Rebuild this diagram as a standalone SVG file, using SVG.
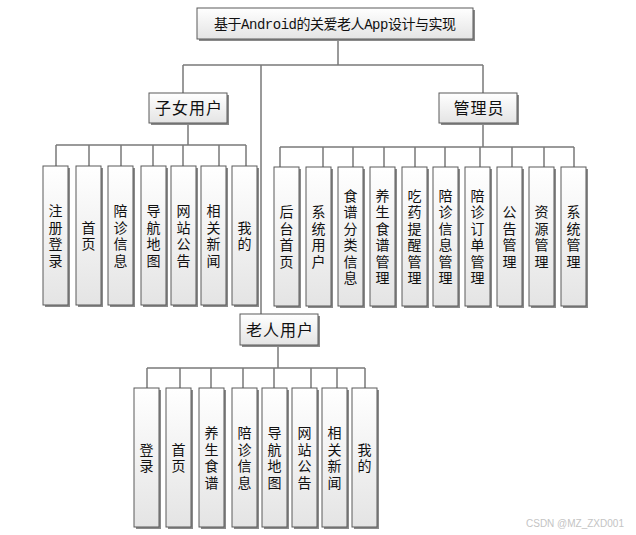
<svg xmlns="http://www.w3.org/2000/svg" width="636" height="535" viewBox="0 0 636 535">
<defs>
<linearGradient id="g" x1="0" y1="0" x2="0" y2="1">
<stop offset="0" stop-color="#ffffff"/>
<stop offset="1" stop-color="#e4e4e4"/>
</linearGradient>
<style>
.sh{fill:#8a8a8a;}
.bx{fill:url(#g);stroke:#5a5a5a;stroke-width:1;}
.t{font-family:"Noto Sans CJK SC","Liberation Sans",sans-serif;font-size:14px;fill:#111;text-anchor:middle;writing-mode:vertical-rl;letter-spacing:2.5px;}
.h{font-family:"Noto Sans CJK SC","Liberation Sans",sans-serif;font-size:16px;fill:#111;text-anchor:middle;letter-spacing:1px;}
.ti{font-family:"Liberation Mono","Noto Sans CJK SC",monospace;font-size:14px;fill:#111;text-anchor:middle;}
.c{stroke:#7a7a7a;stroke-width:1.5;fill:none;}
.wm{font-family:"Liberation Sans",sans-serif;font-size:10px;fill:#c4c4c4;}
</style>
</defs>
<rect width="636" height="535" fill="#fff"/>
<g id="connectors">
<path class="c" d="M338 39V65M183 65H483M183 65V93M483 65V93M261 65V314"/>
<path class="c" d="M188 123V145M56 145H246M56 145V166M89 145V166M121 145V166M153 145V166M183 145V166M219 145V166M246 145V166"/>
<path class="c" d="M483 123V147M280 147H574M280 147V167M323 147V167M353 147V167M384 147V167M415 147V167M445 147V167M480 147V167M512 147V167M544 147V167M574 147V167"/>
<path class="c" d="M278 345V368M147 368H365M147 368V388M180 368V388M211 368V388M243 368V388M274 368V388M311 368V388M337 368V388M365 368V388"/>
</g>
<g id="root"><rect class="sh" x="199" y="10" width="276" height="31"/><rect class="bx" x="197" y="8" width="276" height="31"/><text class="ti" x="335" y="28.5" textLength="242">基于Android的关爱老人App设计与实现</text></g>
<g id="children"><rect class="sh" x="151" y="95" width="78" height="30"/><rect class="bx" x="149" y="93" width="78" height="30"/><text class="h" x="189" y="114">子女用户</text></g>
<g id="admin"><rect class="sh" x="441" y="95" width="78" height="30"/><rect class="bx" x="439" y="93" width="78" height="30"/><text class="h" x="479" y="114">管理员</text></g>
<g id="elder"><rect class="sh" x="242" y="316" width="78" height="31"/><rect class="bx" x="240" y="314" width="78" height="31"/><text class="h" x="280" y="335.5">老人用户</text></g>

<g id="c1"><rect class="sh" x="45" y="168" width="25" height="139"/><rect class="bx" x="43" y="166" width="25" height="139"/><text class="t" x="55.5" y="237">注册登录</text></g>
<g id="c2"><rect class="sh" x="78" y="168" width="25" height="139"/><rect class="bx" x="76" y="166" width="25" height="139"/><text class="t" x="88.5" y="237">首页</text></g>
<g id="c3"><rect class="sh" x="110" y="168" width="25" height="139"/><rect class="bx" x="108" y="166" width="25" height="139"/><text class="t" x="120.5" y="237">陪诊信息</text></g>
<g id="c4"><rect class="sh" x="143" y="168" width="25" height="139"/><rect class="bx" x="141" y="166" width="25" height="139"/><text class="t" x="153.5" y="237">导航地图</text></g>
<g id="c5"><rect class="sh" x="173" y="168" width="25" height="139"/><rect class="bx" x="171" y="166" width="25" height="139"/><text class="t" x="183.5" y="237">网站公告</text></g>
<g id="c6"><rect class="sh" x="203" y="168" width="25" height="139"/><rect class="bx" x="201" y="166" width="25" height="139"/><text class="t" x="213.5" y="237">相关新闻</text></g>
<g id="c7"><rect class="sh" x="234" y="168" width="25" height="139"/><rect class="bx" x="232" y="166" width="25" height="139"/><text class="t" x="244.5" y="237">我的</text></g>

<g id="a1"><rect class="sh" x="276" y="169" width="25" height="139"/><rect class="bx" x="274" y="167" width="25" height="139"/><text class="t" x="286.5" y="238">后台首页</text></g>
<g id="a2"><rect class="sh" x="308" y="169" width="25" height="139"/><rect class="bx" x="306" y="167" width="25" height="139"/><text class="t" x="318.5" y="238">系统用户</text></g>
<g id="a3"><rect class="sh" x="340" y="169" width="25" height="139"/><rect class="bx" x="338" y="167" width="25" height="139"/><text class="t" x="350.5" y="238">食谱分类信息</text></g>
<g id="a4"><rect class="sh" x="372" y="169" width="25" height="139"/><rect class="bx" x="370" y="167" width="25" height="139"/><text class="t" x="382.5" y="238">养生食谱管理</text></g>
<g id="a5"><rect class="sh" x="404" y="169" width="25" height="139"/><rect class="bx" x="402" y="167" width="25" height="139"/><text class="t" x="414.5" y="238">吃药提醒管理</text></g>
<g id="a6"><rect class="sh" x="435" y="169" width="25" height="139"/><rect class="bx" x="433" y="167" width="25" height="139"/><text class="t" x="445.5" y="238">陪诊信息管理</text></g>
<g id="a7"><rect class="sh" x="467" y="169" width="25" height="139"/><rect class="bx" x="465" y="167" width="25" height="139"/><text class="t" x="477.5" y="238">陪诊订单管理</text></g>
<g id="a8"><rect class="sh" x="499" y="169" width="25" height="139"/><rect class="bx" x="497" y="167" width="25" height="139"/><text class="t" x="509.5" y="238">公告管理</text></g>
<g id="a9"><rect class="sh" x="531" y="169" width="25" height="139"/><rect class="bx" x="529" y="167" width="25" height="139"/><text class="t" x="541.5" y="238">资源管理</text></g>
<g id="a10"><rect class="sh" x="563" y="169" width="25" height="139"/><rect class="bx" x="561" y="167" width="25" height="139"/><text class="t" x="573.5" y="238">系统管理</text></g>

<g id="e1"><rect class="sh" x="136" y="390" width="25" height="139"/><rect class="bx" x="134" y="388" width="25" height="139"/><text class="t" x="146.5" y="459">登录</text></g>
<g id="e2"><rect class="sh" x="168" y="390" width="25" height="139"/><rect class="bx" x="166" y="388" width="25" height="139"/><text class="t" x="178.5" y="459">首页</text></g>
<g id="e3"><rect class="sh" x="201" y="390" width="25" height="139"/><rect class="bx" x="199" y="388" width="25" height="139"/><text class="t" x="211.5" y="459">养生食谱</text></g>
<g id="e4"><rect class="sh" x="234" y="390" width="25" height="139"/><rect class="bx" x="232" y="388" width="25" height="139"/><text class="t" x="244.5" y="459">陪诊信息</text></g>
<g id="e5"><rect class="sh" x="264" y="390" width="25" height="139"/><rect class="bx" x="262" y="388" width="25" height="139"/><text class="t" x="274.5" y="459">导航地图</text></g>
<g id="e6"><rect class="sh" x="294" y="390" width="25" height="139"/><rect class="bx" x="292" y="388" width="25" height="139"/><text class="t" x="304.5" y="459">网站公告</text></g>
<g id="e7"><rect class="sh" x="324" y="390" width="25" height="139"/><rect class="bx" x="322" y="388" width="25" height="139"/><text class="t" x="334.5" y="459">相关新闻</text></g>
<g id="e8"><rect class="sh" x="354" y="390" width="25" height="139"/><rect class="bx" x="352" y="388" width="25" height="139"/><text class="t" x="364.5" y="459">我的</text></g>

<text class="wm" x="526" y="527">CSDN @MZ_ZXD001</text>
</svg>
